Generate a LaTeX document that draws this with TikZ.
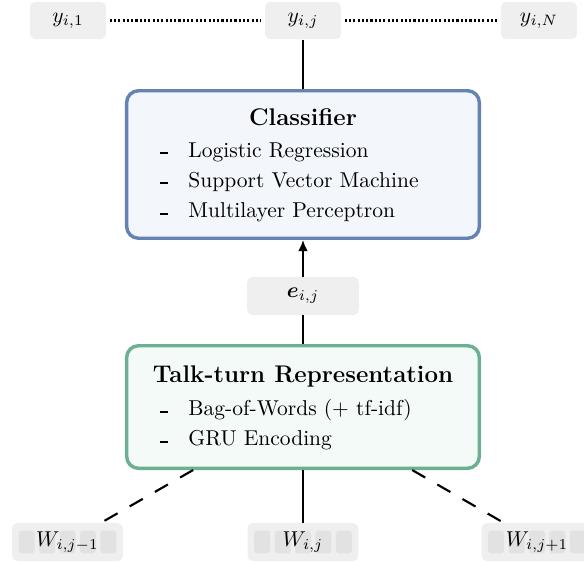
\documentclass[tikz,border=0pt]{standalone}
\usepackage{amsmath,amssymb}
\usepackage{xcolor}
\usepackage{tikz}
\usetikzlibrary{arrows.meta,calc}
\definecolor{clfblue}{HTML}{6483B3}
\definecolor{clffill}{HTML}{F3F6FB}
\definecolor{repgreen}{HTML}{6DAF92}
\definecolor{repfill}{HTML}{F4FAF7}
\definecolor{tagfill}{HTML}{EFEFEF}
\definecolor{tokfill}{HTML}{E2E2E2}
\newcommand{\itemdash}{\rule[1.4pt]{3.4pt}{1pt}\hspace{9.6pt}}
\newcommand{\boxtitle}{\fontsize{11.2pt}{13pt}\selectfont\bfseries}
\tikzset{
  tagnode/.style={fill=tagfill, rounded corners=2.5pt, inner sep=0pt, minimum height=17.4pt},
  toknode/.style={tagnode, minimum width=51.6pt, minimum height=17.7pt,
    path picture={\foreach \k in {-2,...,2}
      \fill[tokfill, rounded corners=1.4pt]
        ($(path picture bounding box.center)+(\k*9.49pt-3.72pt,-5.25pt)$) rectangle ++(7.44pt,10.5pt);}},
  bigbox/.style={line width=1.6pt, rounded corners=5.5pt, minimum width=164pt, inner sep=0pt},
  itemtxt/.style={anchor=base west, inner sep=0pt},
  titletxt/.style={anchor=base, inner sep=0pt, font=\boxtitle},
  conn/.style={line width=0.95pt},
  dotline/.style={line width=1.15pt, dash pattern=on 1pt off 1pt, shorten <=1.5pt, shorten >=1.5pt},
  dashline/.style={line width=1pt, dash pattern=on 7pt off 6.5pt}
}

\begin{document}
\begin{tikzpicture}[x=0.465pt,y=-0.465pt]
  \useasboundingbox (0,0) rectangle (584,561);
  \node[tagnode, minimum width=35.3pt] (y1) at (68,20.5) {$y_{i,1}$};
  \node[tagnode, minimum width=35.3pt] (yj) at (303,20.5) {$y_{i,j}$};
  \node[tagnode, minimum width=35.3pt] (yN) at (539,20.5) {$y_{i,N}$};

  \node[bigbox, draw=clfblue, fill=clffill, minimum height=68.6pt] (clf) at (303,164.5) {};
  \node[titletxt] (clftitle) at (303,125) {Classifier};
  \node[itemtxt] (clf1) at (160,157.3) {\itemdash Logistic Regression};
  \node[itemtxt] (clf2) at (160,187.2) {\itemdash Support Vector Machine};
  \node[itemtxt] (clf3) at (160,217.7) {\itemdash Multilayer Perceptron};

  \node[tagnode, minimum width=52pt, minimum height=17.7pt] (e) at (303,296) {$\boldsymbol{e}_{i,j}$};

  \node[bigbox, draw=repgreen, fill=repfill, minimum height=57pt] (rep) at (303,407) {};
  \node[titletxt] (reptitle) at (303,382.7) {Talk-turn Representation};
  \node[itemtxt] (rep1) at (160,415.7) {\itemdash Bag-of-Words (+ tf-idf)};
  \node[itemtxt] (rep2) at (160,445.7) {\itemdash GRU Encoding};

  \node[toknode] (wjm) at (67.5,542) {$W_{i,j-1}$};
  \node[toknode] (wj) at (303,542) {$W_{i,j}$};
  \node[toknode] (wjp) at (537,542) {$W_{i,j+1}$};

  \draw[dotline] (y1) -- (yj);
  \draw[dotline] (yj) -- (yN);
  \draw[conn] (yj) -- (clf);
  \draw[conn, -{Latex[length=5.2pt,width=4.6pt]}] (e) -- (clf);
  \draw[conn] (rep) -- (e);
  \draw[conn] (rep) -- (wj);
  \draw[dashline] (rep) -- (wjm);
  \draw[dashline] (rep) -- (wjp);
\end{tikzpicture}
\end{document}
